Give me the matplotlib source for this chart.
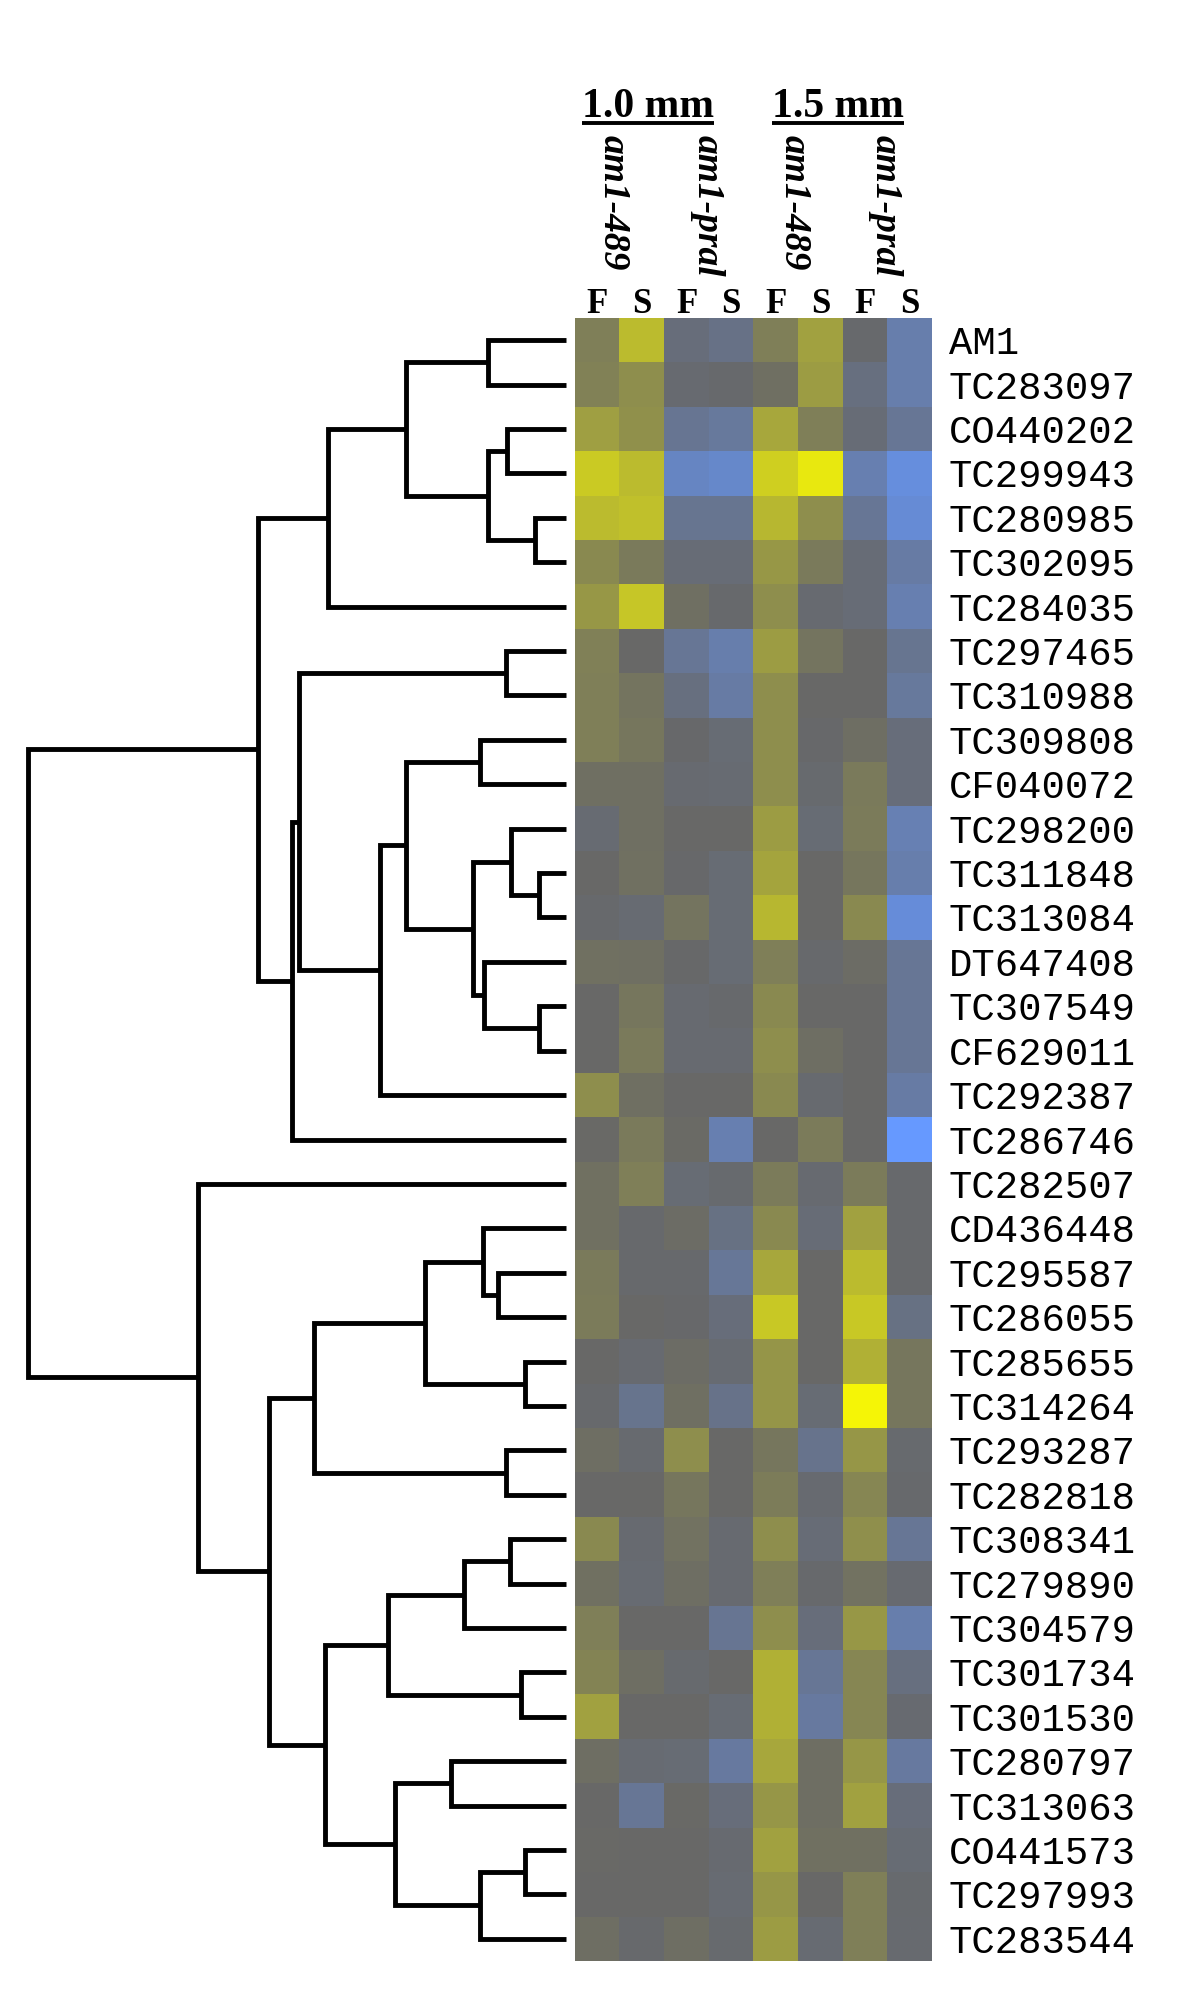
import matplotlib
matplotlib.use("Agg")
import matplotlib.pyplot as plt
import numpy as np
from matplotlib.colors import LinearSegmentedColormap


genes = ["AM1", "TC283097", "CO440202", "TC299943", "TC280985", "TC302095",
         "TC284035", "TC297465", "TC310988", "TC309808", "CF040072",
         "TC298200", "TC311848", "TC313084", "DT647408", "TC307549",
         "CF629011", "TC292387", "TC286746", "TC282507", "CD436448",
         "TC295587", "TC286055", "TC285655", "TC314264", "TC293287",
         "TC282818", "TC308341", "TC279890", "TC304579", "TC301734",
         "TC301530", "TC280797", "TC313063", "CO441573", "TC297993",
         "TC283544"]

conditions = ["F", "S", "F", "S", "F", "S", "F", "S"]
strains = ["am1-489", "am1-pral", "am1-489", "am1-pral"]
stages = ["1.0 mm", "1.5 mm"]

# relative expression, blue (-) .. grey (0) .. yellow (+)
expr = np.array([
    [0.15, 0.55, -0.12, -0.20, 0.15, 0.38, -0.03, -0.45],
    [0.17, 0.25, -0.06, -0.03, 0.05, 0.35, -0.15, -0.45],
    [0.36, 0.27, -0.28, -0.35, 0.42, 0.15, -0.10, -0.30],
    [0.65, 0.55, -0.60, -0.65, 0.68, 0.85, -0.48, -0.78],
    [0.55, 0.58, -0.27, -0.27, 0.53, 0.25, -0.30, -0.72],
    [0.22, 0.12, -0.10, -0.10, 0.32, 0.12, -0.10, -0.40],
    [0.32, 0.62, 0.05, -0.03, 0.25, -0.06, -0.10, -0.48],
    [0.16, 0.00, -0.30, -0.45, 0.35, 0.08, 0.00, -0.27],
    [0.15, 0.08, -0.15, -0.40, 0.25, 0.00, 0.00, -0.35],
    [0.15, 0.10, -0.02, -0.08, 0.25, -0.02, 0.04, -0.12],
    [0.05, 0.05, -0.06, -0.07, 0.25, -0.04, 0.12, -0.12],
    [-0.07, 0.05, 0.00, 0.00, 0.35, -0.08, 0.13, -0.50],
    [0.00, 0.06, -0.02, -0.08, 0.40, 0.00, 0.10, -0.45],
    [-0.03, -0.07, 0.08, -0.08, 0.53, 0.00, 0.22, -0.75],
    [0.06, 0.05, -0.01, -0.08, 0.15, -0.03, 0.03, -0.30],
    [0.00, 0.10, -0.06, -0.03, 0.22, 0.00, 0.00, -0.30],
    [0.00, 0.12, -0.06, -0.06, 0.25, 0.04, 0.00, -0.30],
    [0.25, 0.05, 0.00, 0.00, 0.22, -0.05, 0.00, -0.40],
    [0.01, 0.12, 0.02, -0.48, 0.00, 0.13, 0.00, -1.00],
    [0.06, 0.15, -0.08, -0.04, 0.13, -0.06, 0.13, -0.03],
    [0.06, -0.03, 0.03, -0.18, 0.22, -0.10, 0.38, -0.03],
    [0.12, -0.03, -0.03, -0.32, 0.42, 0.00, 0.55, -0.03],
    [0.13, 0.00, -0.02, -0.12, 0.64, 0.00, 0.64, -0.18],
    [0.00, -0.06, 0.03, -0.07, 0.30, 0.00, 0.48, 0.10],
    [-0.03, -0.25, 0.05, -0.22, 0.30, -0.08, 0.93, 0.10],
    [0.04, -0.05, 0.25, 0.00, 0.10, -0.24, 0.31, -0.04],
    [0.00, 0.00, 0.10, 0.00, 0.14, -0.06, 0.20, -0.03],
    [0.22, -0.06, 0.07, -0.06, 0.25, -0.10, 0.26, -0.30],
    [0.06, -0.07, 0.04, -0.06, 0.15, -0.03, 0.07, -0.06],
    [0.15, 0.00, 0.00, -0.28, 0.25, -0.12, 0.32, -0.45],
    [0.18, 0.04, -0.04, 0.00, 0.48, -0.30, 0.20, -0.15],
    [0.38, 0.00, 0.00, -0.08, 0.48, -0.36, 0.20, -0.06],
    [0.04, -0.07, -0.08, -0.36, 0.42, 0.04, 0.31, -0.36],
    [0.00, -0.30, 0.01, -0.12, 0.31, 0.04, 0.38, -0.12],
    [0.01, 0.00, 0.00, -0.06, 0.38, 0.06, 0.06, -0.08],
    [0.00, 0.00, 0.00, -0.07, 0.31, 0.00, 0.15, -0.04],
    [0.04, -0.03, 0.04, -0.04, 0.35, -0.07, 0.15, -0.05],
])

# merges: (child a, child b, height); leaves are 0..36, new nodes 37, 38, ...
merges = [
    (0, 1, 0.145), (2, 3, 0.110), (4, 5, 0.058), (38, 39, 0.145),
    (37, 40, 0.297), (41, 6, 0.442), (7, 8, 0.112), (9, 10, 0.160),
    (12, 13, 0.050), (11, 45, 0.102), (15, 16, 0.050), (14, 47, 0.152),
    (46, 48, 0.173), (44, 49, 0.297), (50, 17, 0.346), (43, 51, 0.496),
    (52, 18, 0.509), (42, 53, 0.572), (21, 22, 0.126), (20, 55, 0.154),
    (23, 24, 0.076), (56, 57, 0.262), (25, 26, 0.112), (58, 59, 0.468),
    (27, 28, 0.104), (61, 29, 0.190), (30, 31, 0.084), (62, 63, 0.331),
    (32, 33, 0.214), (34, 35, 0.076), (66, 36, 0.160), (65, 67, 0.318),
    (64, 68, 0.448), (60, 69, 0.552), (19, 70, 0.684), (54, 71, 1.000),
]

W, H = 1200, 2013
top_px, bot_px = 318, 1961

fig = plt.figure(figsize=(W / 100, H / 100), dpi=100)
fig.patch.set_facecolor("white")

cmap = LinearSegmentedColormap.from_list(
    "blue_yellow", [(0.0, "#6699ff"), (0.5, "#686868"), (1.0, "#ffff00")])

n = len(genes)
ax = fig.add_axes([575 / W, 1 - bot_px / H, 357 / W, (bot_px - top_px) / H])
ax.imshow(expr, cmap=cmap, vmin=-1, vmax=1, aspect="auto",
          interpolation="nearest", extent=(0, 8, n, 0))
for s in ax.spines.values():
    s.set_visible(False)

ax.yaxis.tick_right()
ax.set_yticks(np.arange(n) + 0.5)
ax.set_yticklabels(genes, fontfamily="Liberation Mono", fontsize=28)
ax.xaxis.tick_top()
ax.set_xticks(np.arange(8) + 0.5)
ax.set_xticklabels(conditions, fontfamily="Liberation Serif",
                   fontweight="bold", fontsize=25)
ax.tick_params(length=0)
ax.tick_params(axis="y", pad=12)
ax.tick_params(axis="x", pad=-2)
ax.set_xlim(0, 8)
ax.set_ylim(n, 0)

for xs, name in zip([0.85, 2.95, 4.9, 6.95], strains):
    ax.text(xs, -4.12, name, rotation=-90, ha="center", va="top",
            fontfamily="Liberation Serif", fontweight="bold",
            fontstyle="italic", fontsize=27)

heads = []
for xs, name in zip([1.64, 5.9], stages):
    t = ax.text(xs, -4.52, name, ha="center", va="baseline",
                fontfamily="Liberation Serif", fontweight="bold", fontsize=30)
    heads.append(t)

# underline the stage headers
fig.canvas.draw()
inv = ax.transData.inverted()
for t in heads:
    bb = t.get_window_extent()
    (x0, _), (x1, _) = inv.transform([(bb.x0, 0), (bb.x1, 0)])
    ax.plot([x0, x1], [-4.40, -4.40], color="black", lw=2.8,
            solid_capstyle="butt", clip_on=False)
ax.set_xlim(0, 8)
ax.set_ylim(n, 0)

# dendrogram
dax = fig.add_axes([28 / W, 1 - bot_px / H, (566 - 28) / W, (bot_px - top_px) / H])
dax.set_xlim(1, 0)
dax.set_ylim(n, 0)
dax.axis("off")

ypos = {i: i + 0.5 for i in range(n)}
hpos = {i: 0.0 for i in range(n)}
for k, (a, b, h) in enumerate(merges):
    dax.plot([hpos[a], h, h, hpos[b]], [ypos[a], ypos[a], ypos[b], ypos[b]],
             color="black", lw=3.5, solid_joinstyle="miter",
             solid_capstyle="butt", clip_on=False)
    ypos[n + k] = (ypos[a] + ypos[b]) / 2
    hpos[n + k] = h
dax.set_xlim(1, 0)
dax.set_ylim(n, 0)

fig.savefig("out.png", dpi=100, facecolor="white")
